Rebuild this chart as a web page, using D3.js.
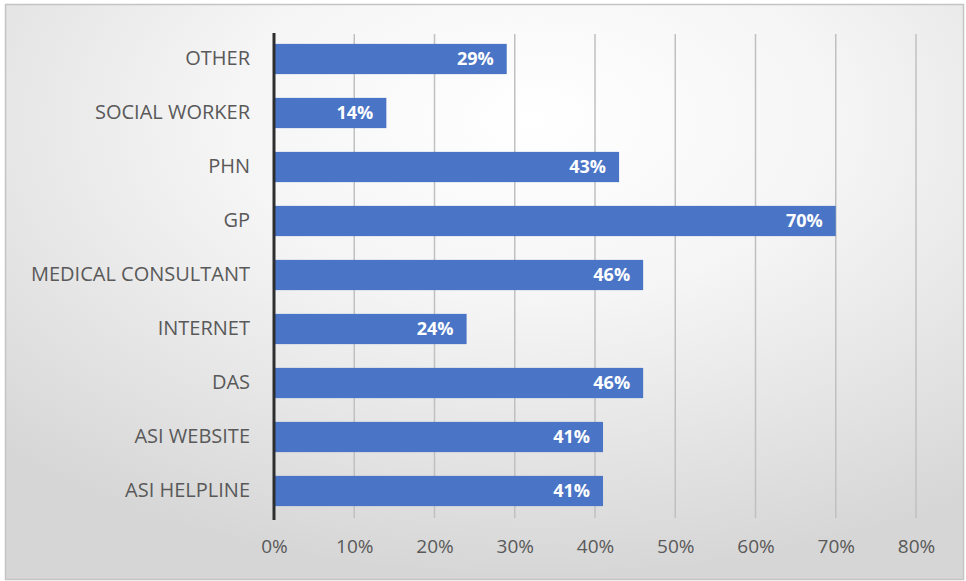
<!DOCTYPE html>
<html>
<head>
<meta charset="utf-8">
<script src="https://cdn.jsdelivr.net/npm/d3@7/dist/d3.min.js"></script>
<style>
  html, body { margin: 0; padding: 0; background: #ffffff; }
  svg { display: block; }
</style>
</head>
<body>
<script>
// Source of referral, share of respondents
const categories = ["OTHER", "SOCIAL WORKER", "PHN", "GP", "MEDICAL CONSULTANT", "INTERNET", "DAS", "ASI WEBSITE", "ASI HELPLINE"];
const values = [29, 14, 43, 70, 46, 24, 46, 41, 41];
const tickValues = [0, 10, 20, 30, 40, 50, 60, 70, 80];

const W = 966, H = 581;
const margin = { left: 274, right: 50, top: 32, bottom: 63 };

const svg = d3.select("body").append("svg")
  .attr("width", W).attr("height", H);

// Soft gray backdrop, brighter toward the upper middle
const defs = svg.append("defs");
const grad = defs.append("radialGradient")
  .attr("id", "bg").attr("cx", "55%").attr("cy", "20%").attr("r", "80%");
grad.append("stop").attr("offset", "0%").attr("stop-color", "#ffffff");
grad.append("stop").attr("offset", "40%").attr("stop-color", "#f5f5f5");
grad.append("stop").attr("offset", "100%").attr("stop-color", "#d6d6d6");

svg.append("rect").attr("x", 0).attr("y", 0).attr("width", W).attr("height", H).attr("fill", "#ffffff");
svg.append("rect")
  .attr("x", 5.5).attr("y", 4.5).attr("width", W - 8).attr("height", H - 6)
  .attr("fill", "url(#bg)")
  .attr("stroke", "#c4c4c4").attr("stroke-width", 1.5);

const x = d3.scaleLinear().domain([0, 80]).range([margin.left, W - margin.right]);
const y = d3.scaleBand().domain(categories)
  .range([margin.top, H - margin.bottom]).paddingInner(0.44).paddingOuter(0.22);

// Vertical gridlines
svg.append("g")
  .selectAll("line").data(tickValues.filter(d => d > 0)).join("line")
  .attr("x1", d => x(d)).attr("x2", d => x(d))
  .attr("y1", margin.top + 2).attr("y2", H - margin.bottom)
  .attr("stroke", "#c0c0c0").attr("stroke-width", 1.5);

// Bars
svg.append("g")
  .selectAll("rect").data(categories).join("rect")
  .attr("x", x(0))
  .attr("y", d => y(d))
  .attr("width", (d, i) => x(values[i]) - x(0))
  .attr("height", y.bandwidth())
  .attr("fill", "#4a75c6");

// Value labels inside bar ends
svg.append("g")
  .selectAll("text").data(categories).join("text")
  .attr("x", (d, i) => x(values[i]) - 13)
  .attr("y", d => y(d) + y.bandwidth() / 2)
  .attr("dy", "0.36em")
  .attr("text-anchor", "end")
  .attr("font-family", "'Open Sans', sans-serif")
  .attr("font-weight", "bold")
  .attr("font-size", 18)
  .attr("fill", "#ffffff")
  .text((d, i) => values[i] + "%");

// Category axis
const yAxis = svg.append("g")
  .attr("transform", `translate(${x(0)},0)`)
  .call(d3.axisLeft(y).tickSize(0).tickPadding(24));
yAxis.select(".domain").remove();
yAxis.selectAll("text")
  .attr("font-family", "'Open Sans', sans-serif")
  .attr("font-size", 20)
  .attr("fill", "#595959");
svg.append("line")
  .attr("x1", x(0)).attr("x2", x(0))
  .attr("y1", margin.top + 1).attr("y2", H - margin.bottom + 2)
  .attr("stroke", "#2e2e2e").attr("stroke-width", 3);

// Percentage axis
const xAxis = svg.append("g")
  .attr("transform", `translate(0,${H - margin.bottom})`)
  .call(d3.axisBottom(x).tickValues(tickValues).tickSize(0).tickPadding(22)
    .tickFormat(d => d + "%"));
xAxis.select(".domain").remove();
xAxis.selectAll("text")
  .attr("font-family", "'Open Sans', sans-serif")
  .attr("font-size", 19)
  .attr("fill", "#595959");
</script>
</body>
</html>
